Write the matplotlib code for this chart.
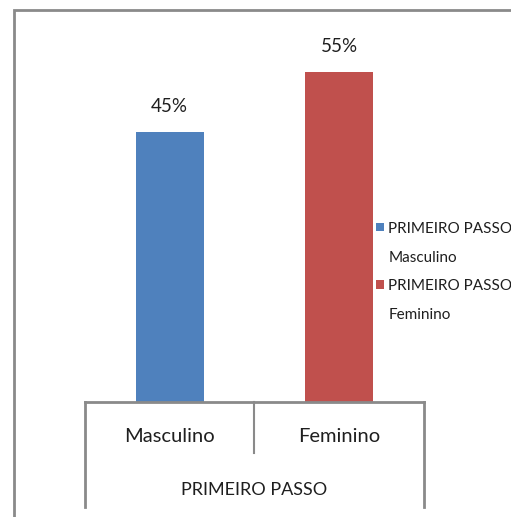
import matplotlib
matplotlib.use("Agg")
import matplotlib.pyplot as plt
from matplotlib.lines import Line2D
from matplotlib.patches import Rectangle
from matplotlib.legend_handler import HandlerPatch
from matplotlib.transforms import blended_transform_factory

group = "PRIMEIRO PASSO"
categories = ["Masculino", "Feminino"]
values = [45, 55]
colors = ["#4f81bd", "#c0504d"]

plt.rcParams["font.family"] = ["Lato", "DejaVu Sans"]
txt = "#1f1f1f"
grey = "#8a8a8a"

W, H = 511, 517
fig = plt.figure(figsize=(W / 100, H / 100), dpi=100)

# pixel -> figure fraction helpers
def fx(px):
    return px / W

def fy(py):
    return 1 - py / H

ax = fig.add_axes([fx(85), fy(402), fx(424) - fx(85), fy(42) - fy(402)])
x = list(range(len(categories)))
bars = ax.bar(x, values, width=0.4, color=colors)
for b, v in zip(bars, values):
    ax.text(b.get_x() + b.get_width() / 2, v + 4.3, f"{v}%", ha="center", va="center",
            fontsize=13.5, color=txt)
ax.set_xlim(-0.5, 1.5)
ax.set_ylim(0, 60)
ax.axis("off")

# outer chart border (runs off the right and bottom edge)
fig.add_artist(Rectangle((fx(14), fy(600)), 2, fy(10) - fy(600), transform=fig.transFigure,
                         fill=False, edgecolor=grey, linewidth=2))

# category axis box
fig.add_artist(Line2D([fx(85), fx(424)], [fy(402), fy(402)], color=grey, lw=2))
fig.add_artist(Line2D([fx(85), fx(85)], [fy(402), fy(507)], color=grey, lw=2))
fig.add_artist(Line2D([fx(424), fx(424)], [fy(402), fy(507)], color=grey, lw=2))
fig.add_artist(Line2D([fx(254), fx(254)], [fy(402), fy(453)], color=grey, lw=1.5))

trans = blended_transform_factory(ax.transData, fig.transFigure)
for i, c in zip(x, categories):
    ax.text(i, fy(437), c, transform=trans, ha="center", va="center", fontsize=14.5, color=txt)
fig.text(fx(254), fy(490), group, ha="center", va="center", fontsize=13, color=txt)


# legend square sits on the first text line, not the middle of the two
def top_square(legend, orig_handle, xdescent, ydescent, width, height, fontsize):
    return Rectangle((-xdescent, -ydescent + 11.8), width, height)


labels = [f"{group}\n{c}" for c in categories]
leg = fig.legend(bars, labels, loc="upper left", bbox_to_anchor=(fx(376), fy(222)),
                 frameon=False, fontsize=11.0, handlelength=0.5, handleheight=0.5,
                 handletextpad=0.3, labelspacing=0.95, borderaxespad=0, borderpad=0,
                 handler_map={Rectangle: HandlerPatch(patch_func=top_square)})
for t in leg.get_texts():
    t.set_color(txt)
    t.set_linespacing(2.33)

fig.savefig("out.png", dpi=100)
